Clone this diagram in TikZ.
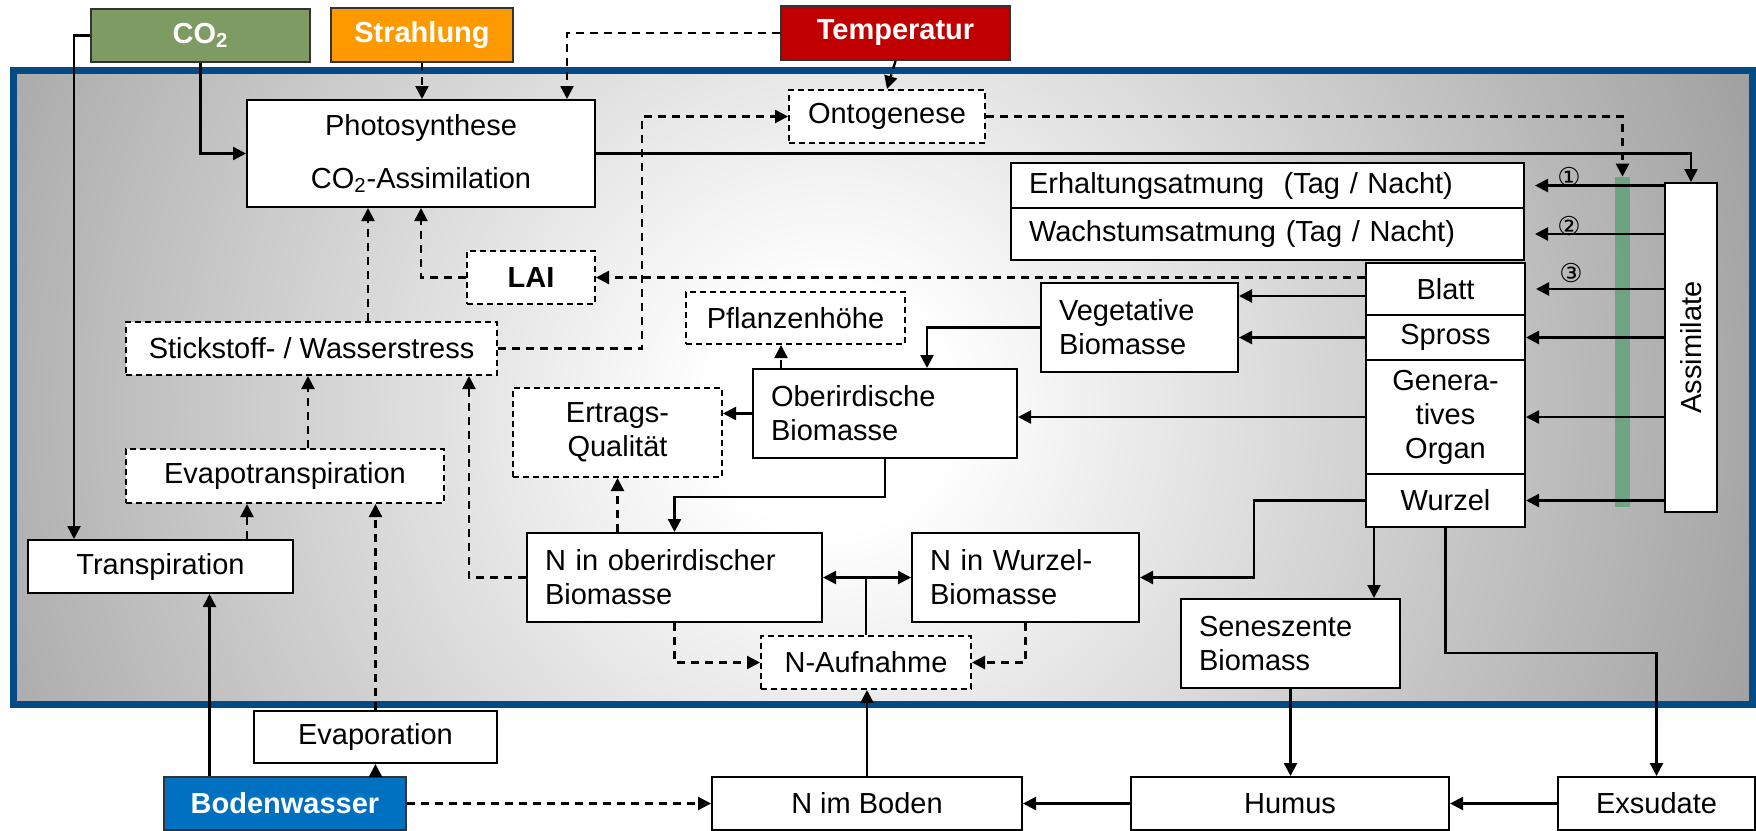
\documentclass[tikz,border=0pt]{standalone}
\usepackage{fontspec}
\setmainfont{Liberation Sans}
\newfontfamily\circfont{DejaVu Sans}
\usetikzlibrary{positioning,calc,arrows.meta}
\definecolor{rahmen}{HTML}{044A85}
\definecolor{co2gruen}{HTML}{7E9B63}
\definecolor{strahlorange}{HTML}{FF9900}
\definecolor{temprot}{HTML}{C00000}
\definecolor{wasserblau}{HTML}{0070C0}
\definecolor{balken}{HTML}{3E9A63}
\definecolor{hgrau}{HTML}{727272}
\pgfdeclareradialshading{hintergrund}{\pgfpoint{0bp}{0bp}}{color(0bp)=(white); color(3bp)=(white); color(35bp)=(hgrau); color(50bp)=(hgrau)}

\begin{document}
\begin{tikzpicture}[x=0.5pt, y=-0.5pt,
    every node/.style={font=\fontsize{14.5}{17}\selectfont},
    box/.style={draw, fill=white, line width=1pt, inner sep=0pt, align=center},
    dbox/.style={box, dash pattern=on 3pt off 2pt},
    lbox/.style={box, align=left, inner xsep=9pt},
    kopf/.style={draw=black!80, line width=1pt, text=white, font=\fontsize{14.5}{17}\selectfont\bfseries},
    pf/.style={-{Triangle[length=6.5pt,width=6.5pt]}, line width=1.2pt},
    dpf/.style={pf, dash pattern=on 4pt off 3pt}]
    \useasboundingbox (0,0) rectangle (1756,830);

    % Hintergrund
    \begin{scope}
        \clip (13,70.5) rectangle (1752,704.5);
        \shade[shading=hintergrund] (830,410) circle (1000);
    \end{scope}
    \draw[rahmen, line width=3.5pt] (13,70.5) rectangle (1752,704.5);

    \node[kopf, fill=co2gruen, minimum width=109.5pt, minimum height=26.5pt] (co2) at (200.5,35.5) {CO\textsubscript{2}};
    \node[kopf, fill=strahlorange, minimum width=91pt, minimum height=27pt] (strahl) at (422,35) {Strahlung};
    \node[kopf, fill=temprot, minimum width=114.5pt, minimum height=27pt] (temp) at (895.5,33) {Temperatur};
    \node[kopf, fill=wasserblau, minimum width=121pt, minimum height=26.5pt] (bodenw) at (285,803.5) {Bodenwasser};

    \node[box, minimum width=174pt, minimum height=53.5pt] (photo) at (421,153.5) {Photosynthese\\[9.5pt]CO\textsubscript{2}-Assimilation};
    \node[dbox, minimum width=98pt, minimum height=26.5pt] (onto) at (887,116.5) {Ontogenese};
    \node[lbox, text width=238.5pt, minimum height=22.5pt] (erh) at (1267.5,185.5) {Erhaltungsatmung~ (Tag / Nacht)};
    \node[lbox, text width=238.5pt, minimum height=26pt] (wachs) at (1267.5,234) {Wachstumsatmung (Tag / Nacht)};
    \node[dbox, font=\fontsize{14.5}{17}\selectfont\bfseries, minimum width=64pt, minimum height=26.5pt] (lai) at (531,277.5) {LAI};
    \node[dbox, minimum width=109.5pt, minimum height=26pt] (pflanz) at (795.5,318) {Pflanzenhöhe};
    \node[lbox, text width=80.5pt, minimum height=44.5pt] (veg) at (1139.5,327.5) {Vegetative\\Biomasse};

    \node[box, minimum width=79.5pt, minimum height=26pt] (blatt) at (1445.5,289) {Blatt};
    \node[box, minimum width=79.5pt, minimum height=22.5pt] (spross) at (1445.5,337.5) {Spross};
    \node[box, minimum width=79.5pt, minimum height=57pt] (gen) at (1445.5,417) {Genera-\\tives\\Organ};
    \node[box, minimum width=79.5pt, minimum height=26.5pt] (wurzel) at (1445.5,500.5) {Wurzel};

    \node[box, minimum width=26pt, minimum height=164.5pt] (assim) at (1691,347.5) {};
    \node[rotate=90] (assimtext) at (assim.center) {Assimilate};
    \node[fill=balken, fill opacity=0.6, minimum width=7.5pt, minimum height=165pt, inner sep=0pt] (bar) at (1622.5,342) {};

    \node[dbox, minimum width=185.5pt, minimum height=26.5pt] (stick) at (311.5,348.5) {Stickstoff- / Wasserstress};
    \node[lbox, text width=114pt, minimum height=44.5pt] (ober) at (885,413.5) {Oberirdische\\Biomasse};
    \node[dbox, minimum width=104.5pt, minimum height=44.5pt] (ertrag) at (617.5,432.5) {Ertrags-\\Qualität};
    \node[dbox, minimum width=159pt, minimum height=27pt] (evapot) at (285,476) {Evapotranspiration};
    \node[box, minimum width=132.5pt, minimum height=26.5pt] (trans) at (160.5,566.5) {Transpiration};
    \node[lbox, text width=129.5pt, minimum height=44.5pt] (nober) at (674.5,577.5) {N in oberirdischer\\Biomasse};
    \node[lbox, text width=95.5pt, minimum height=44.5pt] (nwurz) at (1025.5,577.5) {N in Wurzel-\\Biomasse};
    \node[dbox, minimum width=105pt, minimum height=26.5pt] (nauf) at (866,662.5) {N-Aufnahme};
    \node[lbox, text width=91.5pt, minimum height=44.5pt] (senes) at (1290.5,643.5) {Seneszente\\Biomass};
    \node[box, minimum width=121.5pt, minimum height=26pt] (evap) at (375.5,737) {Evaporation};
    \node[box, minimum width=155pt, minimum height=26.5pt] (nboden) at (867,803.5) {N im Boden};
    \node[box, minimum width=159pt, minimum height=26.5pt] (humus) at (1290,803.5) {Humus};
    \node[box, minimum width=98.5pt, minimum height=26.5pt] (exsud) at (1656.5,803.5) {Exsudate};

    \node[font=\circfont\fontsize{13}{13}\selectfont] (n1) at (1569,177) {①};
    \node[font=\circfont\fontsize{13}{13}\selectfont] (n2) at (1569,226) {②};
    \node[font=\circfont\fontsize{13}{13}\selectfont] (n3) at (1571,273) {③};

    % obere Einflüsse
    \draw[pf] (co2.west) -| ($(trans.north west)+(47,0)$);
    \draw[pf] (co2.south) |- (photo.west);
    \draw[dpf] (strahl.south) -- (strahl.south |- photo.north);
    \draw[dpf] (temp.west) -| ($(photo.north east)+(-29,0)$);
    \draw[dpf] (temp.south) -- (onto.north);
    \draw[pf] (photo.east) -| (assim.north);
    \draw[dpf] (onto.east) -| (bar.north);

    % Assimilate
    \draw[pf, shorten >=5pt] (erh.east -| assim.west) -- (erh.east);
    \draw[pf, shorten >=5pt] (wachs.east -| assim.west) -- (wachs.east);
    \draw[pf, shorten >=5pt] (blatt.east -| assim.west) -- (blatt.east);
    \draw[pf] (spross.east -| assim.west) -- (spross.east);
    \draw[pf] (gen.east -| assim.west) -- (gen.east);
    \draw[pf] (wurzel.east -| assim.west) -- (wurzel.east);

    % Organe
    \draw[dpf] (blatt.west |- lai.east) -- (lai.east);
    \draw[dpf] (lai.west) -| (photo.south);
    \draw[pf] ($(blatt.west)+(0,7)$) coordinate (b2) -- (b2 -| veg.east);
    \draw[pf] (spross.west) -- (spross.west -| veg.east);
    \draw[pf] (gen.west) -- (gen.west -| ober.east);
    \draw[pf] (veg.west) -| ($(ober.north)+(42,0)$);
    \draw[dpf] ($(ober.north)+(-104,0)$) coordinate (o1) -- (o1 |- pflanz.south);
    \draw[pf] (ober.west) -- (ober.west -| ertrag.east);
    \draw[pf] (ober.south) -- ++(0,38) -| (nober.north);
    \draw[dpf] (ertrag.south |- nober.north) -- (ertrag.south);
    \draw[pf] (wurzel.west) -| ($(nwurz.east)+(114,0)$) -- (nwurz.east);
    \draw[pf] ($(wurzel.south)+(-71.5,0)$) coordinate (w1) -- (w1 |- senes.north);
    \draw[pf] (wurzel.south) -- ++(0,125) -| (exsud.north);

    % Stress
    \draw[dpf] ($(stick.north)+(56.5,0)$) coordinate (s1) -- (s1 |- photo.south);
    \draw[dpf] (stick.east) -| ($(onto.west)+(-146,0)$) -- (onto.west);
    \draw[dpf] ($(evapot.north)+(23,0)$) coordinate (e1) -- (e1 |- stick.south);
    \draw[dpf] (nober.west) -| ($(stick.south east)+(-29,0)$);
    \draw[dpf] ($(trans.north)+(86.5,0)$) coordinate (t1) -- (t1 |- evapot.south);
    \draw[dpf] (evap.north) -- (evap.north |- evapot.south);

    % Stickstoff
    \draw[line width=1.2pt] (nauf.north) -- (nauf.north |- nober.east) coordinate (knoten);
    \draw[pf] (knoten) -- (nober.east);
    \draw[pf] (knoten) -- (nwurz.west);
    \draw[dpf] (nober.south) |- (nauf.west);
    \draw[dpf] (nwurz.south) |- (nauf.east);
    \draw[pf] (nboden.north) -- (nboden.north |- nauf.south);

    % Boden
    \draw[pf] ($(bodenw.north)+(-75.5,0)$) coordinate (bw1) -- (bw1 |- trans.south);
    \draw[pf] (evap.south |- bodenw.north) -- (evap.south);
    \draw[dpf] (bodenw.east) -- (nboden.west);
    \draw[pf] (humus.west) -- (nboden.east);
    \draw[pf] (exsud.west) -- (humus.east);
    \draw[pf] (senes.south) -- (senes.south |- humus.north);
\end{tikzpicture}
\end{document}
